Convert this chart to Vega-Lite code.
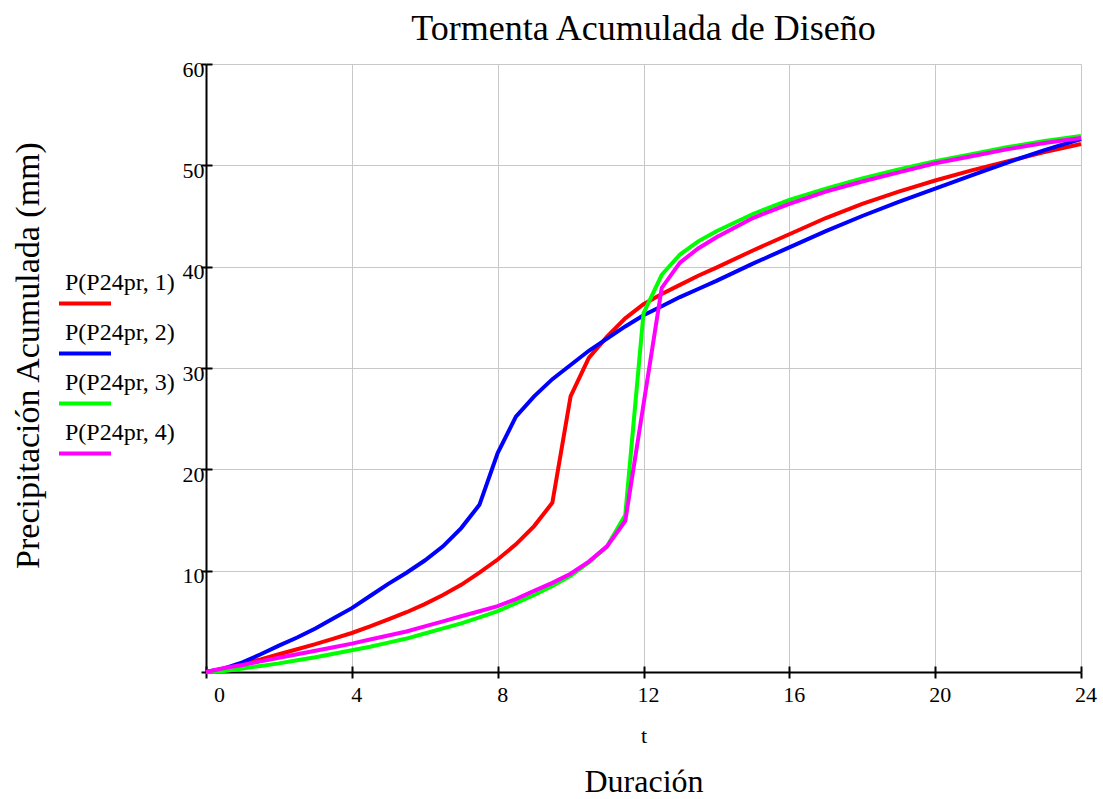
{
 "$schema": "https://vega.github.io/schema/vega-lite/v6.json",
 "width": 875,
 "height": 608,
 "autosize": {"type": "none"},
 "padding": {"left": 206, "top": 64, "right": 22, "bottom": 127},
 "background": "white",
 "config": {"view": {"stroke": null}, "font": "Liberation Serif"},
 "title": {"text": "Tormenta Acumulada de Diseño", "font": "Liberation Serif", "fontSize": 36, "fontWeight": "normal", "color": "black", "anchor": "middle", "frame": "group", "baseline": "alphabetic", "offset": -18},
 "datasets": {
  "curvas": [
   {"s":"P(P24pr, 1)","t":0,"P":0},{"s":"P(P24pr, 1)","t":0.5,"P":0.3},{"s":"P(P24pr, 1)","t":1,"P":0.8},{"s":"P(P24pr, 1)","t":1.5,"P":1.25},{"s":"P(P24pr, 1)","t":2,"P":1.75},{"s":"P(P24pr, 1)","t":2.5,"P":2.25},{"s":"P(P24pr, 1)","t":3,"P":2.75},{"s":"P(P24pr, 1)","t":3.5,"P":3.3},{"s":"P(P24pr, 1)","t":4,"P":3.85},{"s":"P(P24pr, 1)","t":4.5,"P":4.5},{"s":"P(P24pr, 1)","t":5,"P":5.2},{"s":"P(P24pr, 1)","t":5.5,"P":5.9},{"s":"P(P24pr, 1)","t":6,"P":6.7},{"s":"P(P24pr, 1)","t":6.5,"P":7.6},{"s":"P(P24pr, 1)","t":7,"P":8.6},{"s":"P(P24pr, 1)","t":7.5,"P":9.8},{"s":"P(P24pr, 1)","t":8,"P":11.1},{"s":"P(P24pr, 1)","t":8.5,"P":12.6},{"s":"P(P24pr, 1)","t":9,"P":14.4},{"s":"P(P24pr, 1)","t":9.5,"P":16.7},{"s":"P(P24pr, 1)","t":10,"P":27.2},{"s":"P(P24pr, 1)","t":10.5,"P":31.0},{"s":"P(P24pr, 1)","t":11,"P":33.1},{"s":"P(P24pr, 1)","t":11.5,"P":34.9},{"s":"P(P24pr, 1)","t":12,"P":36.3},{"s":"P(P24pr, 1)","t":12.5,"P":37.3},{"s":"P(P24pr, 1)","t":13,"P":38.2},{"s":"P(P24pr, 1)","t":13.5,"P":39.1},{"s":"P(P24pr, 1)","t":14,"P":39.9},{"s":"P(P24pr, 1)","t":15,"P":41.6},{"s":"P(P24pr, 1)","t":16,"P":43.2},{"s":"P(P24pr, 1)","t":17,"P":44.8},{"s":"P(P24pr, 1)","t":18,"P":46.2},{"s":"P(P24pr, 1)","t":19,"P":47.4},{"s":"P(P24pr, 1)","t":20,"P":48.5},{"s":"P(P24pr, 1)","t":21,"P":49.5},{"s":"P(P24pr, 1)","t":22,"P":50.4},{"s":"P(P24pr, 1)","t":23,"P":51.3},{"s":"P(P24pr, 1)","t":24,"P":52.1},
   {"s":"P(P24pr, 2)","t":0,"P":0},{"s":"P(P24pr, 2)","t":0.5,"P":0.35},{"s":"P(P24pr, 2)","t":1,"P":0.95},{"s":"P(P24pr, 2)","t":1.5,"P":1.75},{"s":"P(P24pr, 2)","t":2,"P":2.6},{"s":"P(P24pr, 2)","t":2.5,"P":3.4},{"s":"P(P24pr, 2)","t":3,"P":4.3},{"s":"P(P24pr, 2)","t":3.5,"P":5.3},{"s":"P(P24pr, 2)","t":4,"P":6.3},{"s":"P(P24pr, 2)","t":4.5,"P":7.5},{"s":"P(P24pr, 2)","t":5,"P":8.7},{"s":"P(P24pr, 2)","t":5.5,"P":9.8},{"s":"P(P24pr, 2)","t":6,"P":11.0},{"s":"P(P24pr, 2)","t":6.5,"P":12.4},{"s":"P(P24pr, 2)","t":7,"P":14.2},{"s":"P(P24pr, 2)","t":7.5,"P":16.5},{"s":"P(P24pr, 2)","t":8,"P":21.6},{"s":"P(P24pr, 2)","t":8.5,"P":25.2},{"s":"P(P24pr, 2)","t":9,"P":27.2},{"s":"P(P24pr, 2)","t":9.5,"P":28.9},{"s":"P(P24pr, 2)","t":10,"P":30.3},{"s":"P(P24pr, 2)","t":10.5,"P":31.7},{"s":"P(P24pr, 2)","t":11,"P":32.9},{"s":"P(P24pr, 2)","t":11.5,"P":34.1},{"s":"P(P24pr, 2)","t":12,"P":35.2},{"s":"P(P24pr, 2)","t":12.5,"P":36.1},{"s":"P(P24pr, 2)","t":13,"P":37.0},{"s":"P(P24pr, 2)","t":13.5,"P":37.8},{"s":"P(P24pr, 2)","t":14,"P":38.6},{"s":"P(P24pr, 2)","t":15,"P":40.3},{"s":"P(P24pr, 2)","t":16,"P":41.9},{"s":"P(P24pr, 2)","t":17,"P":43.5},{"s":"P(P24pr, 2)","t":18,"P":45.0},{"s":"P(P24pr, 2)","t":19,"P":46.4},{"s":"P(P24pr, 2)","t":20,"P":47.7},{"s":"P(P24pr, 2)","t":21,"P":49.0},{"s":"P(P24pr, 2)","t":22,"P":50.3},{"s":"P(P24pr, 2)","t":23,"P":51.5},{"s":"P(P24pr, 2)","t":24,"P":52.6},
   {"s":"P(P24pr, 3)","t":0,"P":0},{"s":"P(P24pr, 3)","t":0.5,"P":0.1},{"s":"P(P24pr, 3)","t":1,"P":0.35},{"s":"P(P24pr, 3)","t":1.5,"P":0.6},{"s":"P(P24pr, 3)","t":2,"P":0.85},{"s":"P(P24pr, 3)","t":2.5,"P":1.15},{"s":"P(P24pr, 3)","t":3,"P":1.45},{"s":"P(P24pr, 3)","t":3.5,"P":1.8},{"s":"P(P24pr, 3)","t":4,"P":2.15},{"s":"P(P24pr, 3)","t":4.5,"P":2.5},{"s":"P(P24pr, 3)","t":5,"P":2.9},{"s":"P(P24pr, 3)","t":5.5,"P":3.3},{"s":"P(P24pr, 3)","t":6,"P":3.8},{"s":"P(P24pr, 3)","t":6.5,"P":4.3},{"s":"P(P24pr, 3)","t":7,"P":4.8},{"s":"P(P24pr, 3)","t":7.5,"P":5.4},{"s":"P(P24pr, 3)","t":8,"P":6.0},{"s":"P(P24pr, 3)","t":8.5,"P":6.8},{"s":"P(P24pr, 3)","t":9,"P":7.6},{"s":"P(P24pr, 3)","t":9.5,"P":8.5},{"s":"P(P24pr, 3)","t":10,"P":9.5},{"s":"P(P24pr, 3)","t":10.5,"P":10.8},{"s":"P(P24pr, 3)","t":11,"P":12.4},{"s":"P(P24pr, 3)","t":11.5,"P":15.5},{"s":"P(P24pr, 3)","t":12,"P":35.4},{"s":"P(P24pr, 3)","t":12.5,"P":39.2},{"s":"P(P24pr, 3)","t":13,"P":41.2},{"s":"P(P24pr, 3)","t":13.5,"P":42.5},{"s":"P(P24pr, 3)","t":14,"P":43.5},{"s":"P(P24pr, 3)","t":15,"P":45.2},{"s":"P(P24pr, 3)","t":16,"P":46.6},{"s":"P(P24pr, 3)","t":17,"P":47.7},{"s":"P(P24pr, 3)","t":18,"P":48.7},{"s":"P(P24pr, 3)","t":19,"P":49.6},{"s":"P(P24pr, 3)","t":20,"P":50.4},{"s":"P(P24pr, 3)","t":21,"P":51.1},{"s":"P(P24pr, 3)","t":22,"P":51.8},{"s":"P(P24pr, 3)","t":23,"P":52.4},{"s":"P(P24pr, 3)","t":24,"P":52.9},
   {"s":"P(P24pr, 4)","t":0,"P":0},{"s":"P(P24pr, 4)","t":0.5,"P":0.4},{"s":"P(P24pr, 4)","t":1,"P":0.7},{"s":"P(P24pr, 4)","t":1.5,"P":1.05},{"s":"P(P24pr, 4)","t":2,"P":1.4},{"s":"P(P24pr, 4)","t":2.5,"P":1.75},{"s":"P(P24pr, 4)","t":3,"P":2.1},{"s":"P(P24pr, 4)","t":3.5,"P":2.45},{"s":"P(P24pr, 4)","t":4,"P":2.8},{"s":"P(P24pr, 4)","t":4.5,"P":3.2},{"s":"P(P24pr, 4)","t":5,"P":3.6},{"s":"P(P24pr, 4)","t":5.5,"P":4.0},{"s":"P(P24pr, 4)","t":6,"P":4.5},{"s":"P(P24pr, 4)","t":6.5,"P":5.0},{"s":"P(P24pr, 4)","t":7,"P":5.5},{"s":"P(P24pr, 4)","t":7.5,"P":6.0},{"s":"P(P24pr, 4)","t":8,"P":6.5},{"s":"P(P24pr, 4)","t":8.5,"P":7.2},{"s":"P(P24pr, 4)","t":9,"P":8.0},{"s":"P(P24pr, 4)","t":9.5,"P":8.8},{"s":"P(P24pr, 4)","t":10,"P":9.7},{"s":"P(P24pr, 4)","t":10.5,"P":10.9},{"s":"P(P24pr, 4)","t":11,"P":12.4},{"s":"P(P24pr, 4)","t":11.5,"P":14.9},{"s":"P(P24pr, 4)","t":12,"P":26.4},{"s":"P(P24pr, 4)","t":12.5,"P":37.9},{"s":"P(P24pr, 4)","t":13,"P":40.4},{"s":"P(P24pr, 4)","t":13.5,"P":41.8},{"s":"P(P24pr, 4)","t":14,"P":42.9},{"s":"P(P24pr, 4)","t":15,"P":44.8},{"s":"P(P24pr, 4)","t":16,"P":46.2},{"s":"P(P24pr, 4)","t":17,"P":47.4},{"s":"P(P24pr, 4)","t":18,"P":48.4},{"s":"P(P24pr, 4)","t":19,"P":49.3},{"s":"P(P24pr, 4)","t":20,"P":50.2},{"s":"P(P24pr, 4)","t":21,"P":50.9},{"s":"P(P24pr, 4)","t":22,"P":51.6},{"s":"P(P24pr, 4)","t":23,"P":52.2},{"s":"P(P24pr, 4)","t":24,"P":52.7}
  ]
 },
 "data": {"name": "curvas"},
 "layer": [
  {
   "mark": {"type": "line", "strokeWidth": 4, "clip": false},
   "encoding": {
    "x": {"field": "t", "type": "quantitative", "scale": {"domain": [0, 24], "nice": false, "zero": false},
     "axis": {"orient": "bottom", "values": [0, 4, 8, 12, 16, 20, 24], "title": "t", "titleFont": "Liberation Serif", "titleFontSize": 22, "titleFontWeight": "normal", "titleColor": "black", "titleY": 70, "titleBaseline": "alphabetic",
      "labelFont": "Liberation Serif", "labelFontSize": 22, "labelColor": "black", "labelOffset": {"condition": {"test": "datum.value === 0", "value": 13}, "value": 4.5}, "labelPadding": 6, "labelFlush": false, "labelOverlap": false,
      "tickSize": 6, "tickColor": "black", "tickWidth": 2, "domainColor": "black", "domainWidth": 2, "grid": true, "gridColor": "#C8C8C8", "gridWidth": 1}},
    "y": {"field": "P", "type": "quantitative", "scale": {"domain": [0, 60], "nice": false},
     "axis": {"orient": "left", "values": [0, 10, 20, 30, 40, 50, 60], "labelExpr": "datum.value === 0 ? '' : datum.label", "title": "Precipitación Acumulada (mm)", "titleFont": "Liberation Serif", "titleFontSize": 34, "titleFontWeight": "normal", "titleColor": "black", "titleX": -178, "titleY": 291, "titleAlign": "center", "titleBaseline": "middle", "titleAngle": -90,
      "labelFont": "Liberation Serif", "labelFontSize": 22, "labelColor": "black", "labelOffset": 5, "labelPadding": -3, "labelFlush": false, "labelOverlap": false,
      "tickSize": 5, "tickColor": "black", "tickWidth": 2, "domainColor": "black", "domainWidth": 2, "grid": true, "gridColor": "#C8C8C8", "gridWidth": 1}},
    "color": {"field": "s", "type": "nominal",
     "scale": {"domain": ["P(P24pr, 1)", "P(P24pr, 2)", "P(P24pr, 3)", "P(P24pr, 4)"], "range": ["#FF0000", "#0000FF", "#00FF00", "#FF00FF"]},
     "legend": {"orient": "none", "legendX": -149, "legendY": 198, "title": null, "padding": 0, "symbolType": "M-1,0.52L1,0.52", "symbolSize": 2704, "symbolStrokeWidth": 4, "symbolFillColor": "transparent",
      "labelFont": "Liberation Serif", "labelFontSize": 24, "labelColor": "black", "labelBaseline": "alphabetic", "labelOffset": -48, "rowPadding": 0, "labelLimit": 300}}
   }
  },
  {
   "mark": {"type": "point", "opacity": 0},
   "encoding": {
    "x": {"field": "t", "type": "quantitative",
     "axis": {"orient": "bottom", "values": [0, 4, 8, 12, 16, 20, 24], "labels": false, "domain": false, "grid": false, "tickSize": -6, "tickColor": "black", "tickWidth": 2,
      "title": "Duración", "titleFont": "Liberation Serif", "titleFontSize": 32, "titleFontWeight": "normal", "titleColor": "black", "titleY": 119, "titleBaseline": "alphabetic"}},
    "y": {"field": "P", "type": "quantitative",
     "axis": {"orient": "left", "values": [0, 10, 20, 30, 40, 50, 60], "labels": false, "domain": false, "grid": false, "tickSize": -6, "tickColor": "black", "tickWidth": 2, "title": null}}
   }
  }
 ],
 "resolve": {"axis": {"x": "independent", "y": "independent"}}
}
